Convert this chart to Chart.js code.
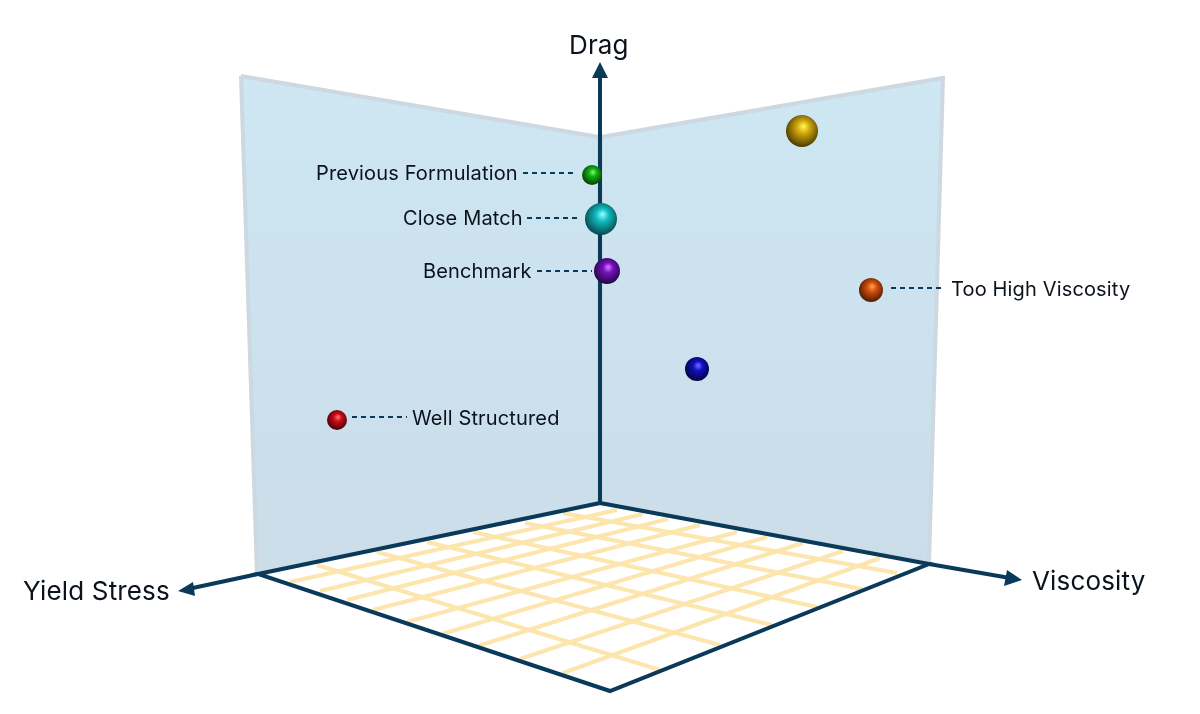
<!DOCTYPE html>
<html>
<head>
<meta charset="utf-8">
<title>Drag, Viscosity, Yield Stress</title>
<script src="https://cdn.jsdelivr.net/npm/chart.js@4"></script>
<style>
  html, body { margin: 0; padding: 0; background: #fff; }
  canvas { display: block; }
</style>
</head>
<body>
<canvas id="chart" width="1200" height="714"></canvas>
<script>
const sphereNames = ['Gold', 'Previous Formulation', 'Close Match', 'Benchmark', 'Too High Viscosity', 'Blue', 'Well Structured'];
const sphereX = [802, 592, 601, 607, 871, 697, 337];
const sphereY = [131, 175, 219, 271, 290, 369, 420];
const sphereSize = [16, 10, 16, 13, 12, 12, 10];
const sphereLight = ['#fff04a', '#70f560', '#8af8f8', '#d070ff', '#ff9a4a', '#6a60ff', '#ff6a6a'];
const sphereMid = ['#d2a80f', '#12b012', '#10bcc0', '#7212bc', '#d4500e', '#1010c0', '#cc0c18'];
const sphereDark = ['#4a3900', '#053c05', '#06464c', '#240540', '#4a1a03', '#04043c', '#420307'];

const leftWallX = [241, 599, 599, 257, 241];
const leftWallY = [76, 137, 503, 574, 76];
const rightWallX = [601, 943, 929, 601, 601];
const rightWallY = [137, 78, 563, 503, 137];
const floorX = [600, 258, 610, 929, 600];
const floorY = [503, 574, 691, 564, 503];

// floor grid, rising to the right
const gridRiseX1 = [290, 320, 347, 373, 407, 442, 478, 520, 563];
const gridRiseY1 = [582, 591, 600, 610, 622, 634, 646, 659, 673];
const gridRiseX2 = [617, 643, 668, 700, 737, 767, 803, 843, 880];
const gridRiseY2 = [510, 514, 519, 525, 532, 537, 543, 551, 558];
// floor grid, falling to the right
const gridFallX1 = [563, 525, 473, 427, 377, 317];
const gridFallY1 = [513, 523, 532, 542, 552, 565];
const gridFallX2 = [897, 862, 817, 772, 720, 660];
const gridFallY2 = [573, 589, 607, 625, 645, 670];

const axisNames = ['Drag', 'Yield Stress', 'Viscosity'];
const axisX1 = [600, 258, 929];
const axisY1 = [503, 574, 564];
const axisX2 = [600, 188, 1010];
const axisY2 = [75, 589, 578];
const headTipX = [600, 178, 1022];
const headTipY = [62, 591, 580];
const headAX = [592, 193, 1007];
const headAY = [78, 582, 570];
const headBX = [608, 195, 1004];
const headBY = [78, 596, 586];
const axisLabelX = [569, 23, 1032];
const axisLabelY = [46, 592, 582];

const calloutNames = ['Previous Formulation', 'Close Match', 'Benchmark', 'Too High Viscosity', 'Well Structured'];
const calloutTextX = [316, 403, 423, 951, 412];
const calloutTextY = [174, 219, 272, 290, 419];
const leaderX1 = [523, 527, 537, 891, 352];
const leaderX2 = [577, 581, 592, 945, 407];
const leaderY = [173, 218, 271, 288, 417];

const NAVY = '#0a3a5a';
const GRID = '#fde5ae';
const INK = '#0a121c';

function pts(xs, ys) {
  return xs.map((x, i) => ({x: x, y: ys[i]}));
}

function shape(xs, ys, fillColor, edge, edgeWidth) {
  return {data: pts(xs, ys), showLine: true, fill: 'shape', backgroundColor: fillColor,
    borderColor: edge || 'transparent', borderWidth: edgeWidth || 0, borderJoinStyle: 'miter', pointRadius: 0};
}

function segment(x1, y1, x2, y2, color, width, dash) {
  return {data: [{x: x1, y: y1}, {x: x2, y: y2}], showLine: true, fill: false,
    borderColor: color, borderWidth: width, borderDash: dash || [], pointRadius: 0};
}

// scriptable colours get asked once before the layout is done
function wallFill(context) {
  const chart = context.chart;
  if (!chart.chartArea) return '#cde2ee';
  const yScale = chart.scales.y;
  const g = chart.ctx.createLinearGradient(0, yScale.getPixelForValue(76), 0, yScale.getPixelForValue(574));
  g.addColorStop(0, '#cde7f3');
  g.addColorStop(1, '#cbdde9');
  return g;
}

function sphereFill(context) {
  const c = context.chart;
  const i = context.dataIndex;
  if (!c.chartArea || i === undefined || !context.raw) return sphereMid[0];
  const px = c.scales.x.getPixelForValue(context.raw.x);
  const py = c.scales.y.getPixelForValue(context.raw.y);
  const r = context.raw.r;
  const g = c.ctx.createRadialGradient(px + r * 0.1, py - r * 0.3, r * 0.05, px + r * 0.05, py - r * 0.12, r * 1.14);
  g.addColorStop(0, sphereLight[i]);
  g.addColorStop(0.32, sphereMid[i]);
  g.addColorStop(1, sphereDark[i]);
  return g;
}

// in the order they get painted, back to front
const layers = [];
layers.push(shape(leftWallX, leftWallY, wallFill, '#cdd8e0', 4));
layers.push(shape(rightWallX, rightWallY, wallFill, '#cdd8e0', 4));
layers.push(shape(floorX, floorY, '#ffffff'));
gridRiseX1.forEach((x, i) => layers.push(segment(x, gridRiseY1[i], gridRiseX2[i], gridRiseY2[i], GRID, 4)));
gridFallX1.forEach((x, i) => layers.push(segment(x, gridFallY1[i], gridFallX2[i], gridFallY2[i], GRID, 4)));
layers.push(shape(floorX, floorY, 'transparent', NAVY, 4));
axisNames.forEach((name, i) => {
  layers.push(segment(axisX1[i], axisY1[i], axisX2[i], axisY2[i], NAVY, 4));
  layers.push(shape([headTipX[i], headAX[i], headBX[i], headTipX[i]], [headTipY[i], headAY[i], headBY[i], headTipY[i]], NAVY));
});
calloutNames.forEach((name, i) => {
  layers.push(segment(leaderX1[i], leaderY[i], leaderX2[i], leaderY[i], NAVY, 2, [5, 4]));
});
layers.push({
  type: 'bubble',
  data: sphereX.map((x, i) => ({x: x, y: sphereY[i], r: sphereSize[i]})),
  backgroundColor: sphereFill,
  borderWidth: 0
});

const textLabels = {
  id: 'textLabels',
  afterDatasetsDraw(chart) {
    const c = chart.ctx;
    const sx = chart.scales.x;
    const sy = chart.scales.y;
    c.save();
    c.fillStyle = INK;
    c.textBaseline = 'middle';
    c.textAlign = 'left';
    c.font = '20px Inter';
    c.letterSpacing = '0.15px';
    calloutNames.forEach((t, i) => c.fillText(t, sx.getPixelForValue(calloutTextX[i]), sy.getPixelForValue(calloutTextY[i])));
    c.font = '26px Inter';
    c.letterSpacing = '0.15px';
    axisNames.forEach((t, i) => c.fillText(t, sx.getPixelForValue(axisLabelX[i]), sy.getPixelForValue(axisLabelY[i])));
    c.restore();
  }
};

new Chart(document.getElementById('chart'), {
  type: 'scatter',
  data: {
    datasets: layers.map((d, i) => Object.assign({order: layers.length - i}, d))
  },
  options: {
    responsive: false,
    animation: false,
    layout: {padding: 0, autoPadding: false},
    plugins: {legend: {display: false}, tooltip: {enabled: false}},
    events: [],
    scales: {
      x: {type: 'linear', min: 0, max: 1200, display: false},
      y: {type: 'linear', min: 0, max: 714, reverse: true, display: false}
    }
  },
  plugins: [textLabels]
});
</script>
</body>
</html>
